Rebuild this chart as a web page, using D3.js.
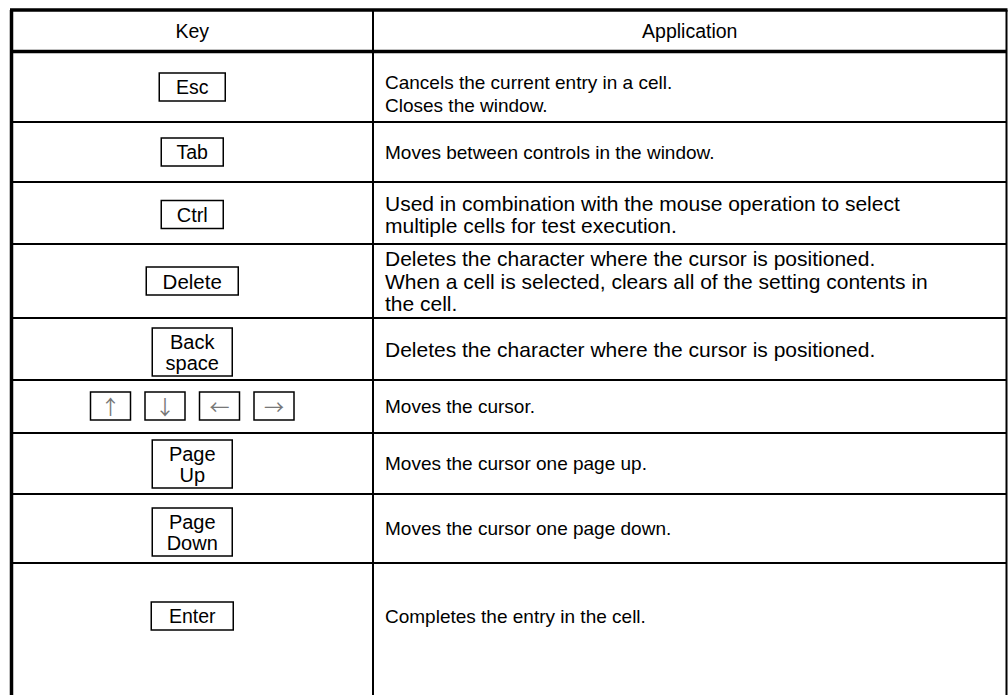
<!DOCTYPE html>
<html><head><meta charset="utf-8">
<script src="https://cdn.jsdelivr.net/npm/d3@7"></script>
<style>html,body{margin:0;padding:0;background:#fff;}svg{display:block;}</style>
</head><body>
<script>
// ---- data ----
const headers = ["Key", "Application"];
const keyLabels = [
  [["Esc"]],
  [["Tab"]],
  [["Ctrl"]],
  [["Delete"]],
  [["Back", "space"]],
  [["↑"], ["↓"], ["←"], ["→"]],
  [["Page", "Up"]],
  [["Page", "Down"]],
  [["Enter"]]
];
const applications = [
  ["Cancels the current entry in a cell.", "Closes the window."],
  ["Moves between controls in the window."],
  ["Used in combination with the mouse operation to select", "multiple cells for test execution."],
  ["Deletes the character where the cursor is positioned.", "When a cell is selected, clears all of the setting contents in", "the cell."],
  ["Deletes the character where the cursor is positioned."],
  ["Moves the cursor."],
  ["Moves the cursor one page up."],
  ["Moves the cursor one page down."],
  ["Completes the entry in the cell."]
];

// ---- layout ----
const W = 1008, H = 695;
const tblLeft = 11.5, tblRight = 1006.5, tblTop = 10, headerBottom = 51.5, colDiv = 373;
const rowEdges = [headerBottom, 122, 182, 244, 318, 380, 433, 494, 563, 697];
const rowCenter = [87, 152, 214.5, 281, 352, 406, 464, 532, 616];
const appOffset = [7, 0, 1.5, 0, 0, 0, 0, 0, 0];
const boxW = [66, 62, 62, 92, 80, 40, 80, 80, 82];
const appFs = [19, 19, 21, 21, 21, 19, 19, 19, 19];
const keyFs = [19.5, 19.5, 20, 20.5, 20, 20, 20, 20, 19.5];
const arrowGap = 14.5;
const fontMain = "'Liberation Sans', Arial, sans-serif";
const fs = 19.5;

const svg = d3.select("body").append("svg").attr("width", W).attr("height", H);

// header text
svg.append("text").attr("x", (tblLeft + colDiv) / 2).attr("y", (tblTop + headerBottom) / 2 + 0.5)
  .attr("text-anchor", "middle").attr("dominant-baseline", "central")
  .attr("font-family", fontMain).attr("font-size", fs).text(headers[0]);
svg.append("text").attr("x", (colDiv + tblRight) / 2).attr("y", (tblTop + headerBottom) / 2 + 0.5)
  .attr("text-anchor", "middle").attr("dominant-baseline", "central")
  .attr("font-family", fontMain).attr("font-size", fs).text(headers[1]);

const lineH = 22.5;
// rows
keyLabels.forEach((boxes, i) => {
  const cy = rowCenter[i];
  const cx = (tblLeft + colDiv) / 2;
  const bw = boxW[i];
  const n = boxes.length;
  const total = n * bw + (n - 1) * arrowGap;
  boxes.forEach((lines, j) => {
    const bx = cx - total / 2 + j * (bw + arrowGap);
    const bh = lines.length > 1 ? 48 : 28;
    svg.append("rect").attr("x", bx).attr("y", cy - bh / 2).attr("width", bw).attr("height", bh)
      .attr("fill", "none").attr("stroke", "#000").attr("stroke-width", 1.5);
    const isArrow = n > 1;
    lines.forEach((t, k) => {
      svg.append("text").attr("x", bx + bw / 2)
        .attr("y", cy + (k - (lines.length - 1) / 2) * 21)
        .attr("text-anchor", "middle").attr("dominant-baseline", "central")
        .attr("font-family", isArrow ? "'Noto Sans CJK JP', sans-serif" : fontMain)
        .attr("font-size", keyFs[i])
        .attr("fill", isArrow ? "#777" : "#000")
        .text(t);
    });
  });
  // application text
  const app = applications[i];
  const yc = (rowEdges[i] + rowEdges[i + 1]) / 2;
  const ac = i === keyLabels.length - 1 ? cy : yc;
  app.forEach((t, k) => {
    svg.append("text").attr("x", colDiv + 12)
      .attr("y", ac + (k - (app.length - 1) / 2) * lineH + appOffset[i])
      .attr("dominant-baseline", "central")
      .attr("font-family", fontMain).attr("font-size", appFs[i])
      .text(t);
  });
});

// grid lines
rowEdges.slice(1, -1).forEach(v => {
  svg.append("line").attr("x1", tblLeft).attr("x2", tblRight).attr("y1", v).attr("y2", v)
    .attr("stroke", "#000").attr("stroke-width", 2);
});
svg.append("line").attr("x1", tblLeft).attr("x2", tblRight).attr("y1", headerBottom).attr("y2", headerBottom)
  .attr("stroke", "#000").attr("stroke-width", 3.5);
svg.append("line").attr("x1", tblLeft - 1.5).attr("x2", tblRight + 1).attr("y1", tblTop).attr("y2", tblTop)
  .attr("stroke", "#000").attr("stroke-width", 3.5);
svg.append("line").attr("x1", colDiv).attr("x2", colDiv).attr("y1", tblTop).attr("y2", H)
  .attr("stroke", "#000").attr("stroke-width", 2);
svg.append("line").attr("x1", tblLeft).attr("x2", tblLeft).attr("y1", tblTop).attr("y2", H)
  .attr("stroke", "#000").attr("stroke-width", 3.5);
svg.append("line").attr("x1", tblRight).attr("x2", tblRight).attr("y1", tblTop).attr("y2", H)
  .attr("stroke", "#000").attr("stroke-width", 2);
</script>
</body></html>
